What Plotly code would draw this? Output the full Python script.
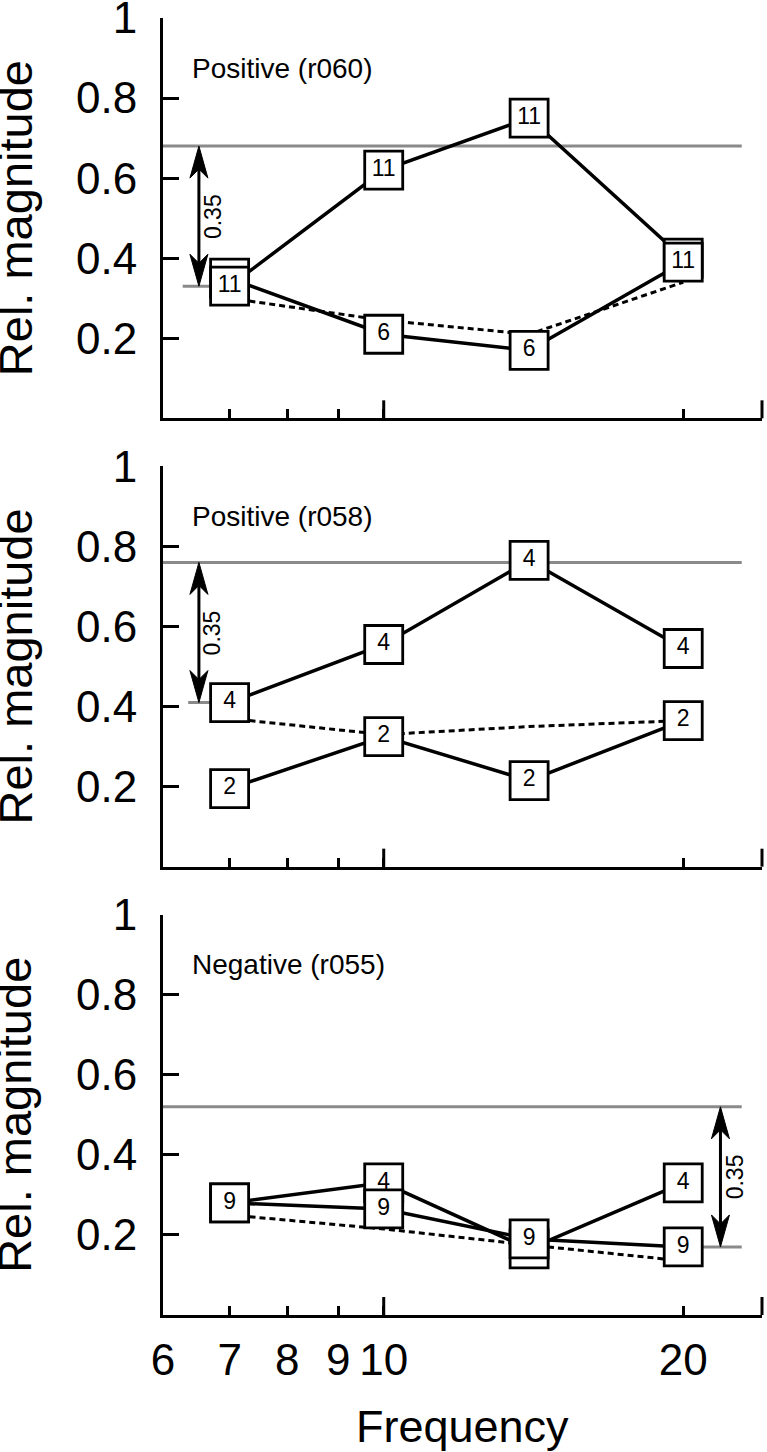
import numpy as np
import plotly.graph_objects as go
from plotly.subplots import make_subplots

FONT = "Liberation Sans, Arial, Helvetica, sans-serif"

# frequencies of the four measured points
freq = [7, 10, 14, 20]

# Positive (r060)
p1_upper = [0.33, 0.62, 0.75, 0.40]
p1_upper_n = ["11", "11", "11", "11"]
p1_lower = [0.35, 0.21, 0.17, 0.39]
p1_lower_n = ["11", "6", "6", "11"]
p1_dotted = [0.30, 0.245, 0.21, 0.34]

# Positive (r058)
p2_upper = [0.41, 0.555, 0.765, 0.545]
p2_upper_n = ["4", "4", "4", "4"]
p2_lower = [0.195, 0.325, 0.215, 0.365]
p2_lower_n = ["2", "2", "2", "2"]
p2_dotted = [0.37, 0.33, 0.35, 0.365]

# Negative (r055)
p3_upper = [0.28, 0.33, 0.165, 0.33]
p3_upper_n = ["4", "4", "4", "4"]
p3_lower = [0.28, 0.265, 0.19, 0.17]
p3_lower_n = ["9", "9", "9", "9"]
p3_dotted = [0.25, 0.215, 0.175, 0.135]

panel_titles = ["Positive (r060)", "Positive (r058)", "Negative (r055)"]
baseline = [0.33, 0.41, 0.17]
delta = 0.35
baseline_stub = [[6.28, 7], [6.36, 7], [20, 22.9]]
threshold_end = 22.9
arrow_x = [6.52, 6.52, 21.8]
# which series box sits on top at each frequency (0 = upper, 1 = lower)
front = [[0, 0, 0, 1], [0, 0, 0, 0], [1, 1, 1, 1]]

x_ticks = [6, 7, 8, 9, 10, 20]
x_range = [6, 24]
y_ticks = [0.2, 0.4, 0.6, 0.8, 1.0]
y_ticktext = ["0.2", "0.4", "0.6", "0.8", "1"]

panels = [
    (p1_upper, p1_upper_n, p1_lower, p1_lower_n, p1_dotted),
    (p2_upper, p2_upper_n, p2_lower, p2_lower_n, p2_dotted),
    (p3_upper, p3_upper_n, p3_lower, p3_lower_n, p3_dotted),
]

W, H = 767, 1452
ml, mr, mt, mb = 163, 5, 18, 137
plot_h = H - mt - mb
plot_w = W - ml - mr

fig = make_subplots(rows=3, cols=1, vertical_spacing=48 / plot_h)

GRAY = "#8a8a8a"
lx0, lx1 = np.log10(x_range[0]), np.log10(x_range[1])

# narrow concave arrowheads (pixels, tip at the anchor)
HEAD_UP = "M0,0 L9,-32 L0,-23 L-9,-32 Z"
HEAD_DOWN = "M0,0 L9,32 L0,23 L-9,32 Z"

for r, (up, up_n, lo, lo_n, dot) in enumerate(panels, start=1):
    xa = "x" if r == 1 else f"x{r}"
    ya = "y" if r == 1 else f"y{r}"
    b = baseline[r - 1]
    top = b + delta
    # threshold line and baseline stub
    fig.add_trace(go.Scatter(x=[x_range[0], threshold_end], y=[top, top], mode="lines",
                             line=dict(color=GRAY, width=3), hoverinfo="skip"), row=r, col=1)
    fig.add_trace(go.Scatter(x=baseline_stub[r - 1], y=[b, b], mode="lines",
                             line=dict(color=GRAY, width=3), hoverinfo="skip"), row=r, col=1)
    # arrow shaft
    fig.add_trace(go.Scatter(x=[arrow_x[r - 1]] * 2, y=[b + 0.03, top - 0.03], mode="lines",
                             line=dict(color="black", width=3), hoverinfo="skip"),
                  row=r, col=1)
    # dotted line
    fig.add_trace(go.Scatter(x=freq, y=dot, mode="lines",
                             line=dict(color="black", width=3, dash="6px,4px")), row=r, col=1)
    # solid lines
    for ys in (up, lo):
        fig.add_trace(go.Scatter(x=freq, y=ys, mode="lines",
                                 line=dict(color="black", width=3.5)), row=r, col=1)
    # boxes: back ones first, then front ones
    series = [(up, up_n), (lo, lo_n)]
    for layer in ("back", "front"):
        xs, ys, ts = [], [], []
        for i, f in enumerate(freq):
            s = front[r - 1][i] if layer == "front" else 1 - front[r - 1][i]
            xs.append(f)
            ys.append(series[s][0][i])
            ts.append(series[s][1][i])
        fig.add_trace(go.Scatter(
            x=xs, y=ys, text=ts, mode="markers+text", textposition="middle center",
            textfont=dict(family=FONT, size=23, color="black"),
            marker=dict(symbol="square", size=38, color="white",
                        line=dict(color="black", width=2.8)),
            cliponaxis=False), row=r, col=1)

    # arrow heads
    xd_arrow = (np.log10(arrow_x[r - 1]) - lx0) / (lx1 - lx0)
    for yv, path in ((top, HEAD_UP), (b, HEAD_DOWN)):
        fig.add_shape(type="path", path=path, xref=f"{xa} domain", yref=ya,
                      xsizemode="pixel", xanchor=xd_arrow, ysizemode="pixel", yanchor=yv,
                      fillcolor="black", line=dict(color="black", width=1))
    fig.add_annotation(x=np.log10(arrow_x[r - 1]), y=(b + top) / 2, xref=xa, yref=ya,
                       text="0.35", textangle=-90, showarrow=False, xshift=14,
                       font=dict(family=FONT, size=23, color="black"))
    # panel title
    fig.add_annotation(x=0.045, y=0.875, xref=f"{xa} domain", yref=f"{ya} domain",
                       text=panel_titles[r - 1], showarrow=False, xanchor="left",
                       yanchor="middle", font=dict(family=FONT, size=28, color="black"))
    # y title
    fig.add_annotation(x=(15 - ml) / plot_w, y=0.5, xref=f"{xa} domain", yref=f"{ya} domain",
                       text="Rel. magnitude", textangle=-90, showarrow=False,
                       xanchor="center", yanchor="middle",
                       font=dict(family=FONT, size=47, color="black"))
    # longer ticks at 10 and at the axis end
    for xv in (10, x_range[1]):
        xd = (np.log10(xv) - lx0) / (lx1 - lx0)
        fig.add_shape(type="line", xref=f"{xa} domain", yref=f"{ya} domain", x0=xd, x1=xd,
                      ysizemode="pixel", yanchor=0, y0=0, y1=18,
                      line=dict(color="black", width=3))

    fig.update_xaxes(type="log", range=[lx0, lx1], tickvals=x_ticks,
                     ticktext=[str(v) for v in x_ticks], ticks="inside", ticklen=9,
                     tickwidth=3, tickcolor="black", showline=True, linewidth=3,
                     linecolor="black", showgrid=False, zeroline=False, automargin=False,
                     showticklabels=(r == 3), ticklabelstandoff=4,
                     tickfont=dict(family=FONT, size=44, color="black"), row=r, col=1)
    fig.update_yaxes(range=[0, 1], tickvals=y_ticks, ticktext=y_ticktext,
                     ticks="inside", ticklen=16, tickwidth=3, tickcolor="black",
                     showline=True, linewidth=3, linecolor="black", showgrid=False,
                     zeroline=False, ticklabelstandoff=14, automargin=False,
                     ticklabeloverflow="allow",
                     tickfont=dict(family=FONT, size=44, color="black"), row=r, col=1)

fig.add_annotation(x=0.5, y=-(1427 - (H - mb)) / plot_h, xref="paper", yref="paper",
                   text="Frequency", showarrow=False, xanchor="center", yanchor="middle",
                   font=dict(family=FONT, size=45, color="black"))

fig.update_layout(width=W, height=H, margin=dict(l=ml, r=mr, t=mt, b=mb),
                  plot_bgcolor="white", paper_bgcolor="white", showlegend=False,
                  font=dict(family=FONT, color="black"))

# the page body has a default 8px margin; remove it so the figure sits at the corner
fig.write_html("out.html", config={"displayModeBar": False},
               post_script="document.body.style.margin='0';")
